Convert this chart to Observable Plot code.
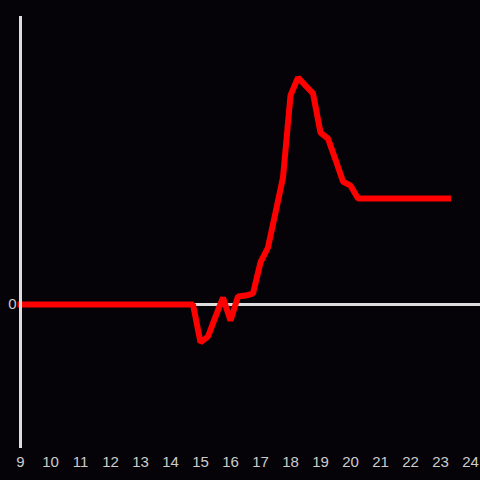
<!DOCTYPE html>
<html>
<head>
<meta charset="utf-8">
<script src="https://cdn.jsdelivr.net/npm/d3@7"></script>
<script src="https://cdn.jsdelivr.net/npm/@observablehq/plot@0.6"></script>
<style>
  html, body { margin: 0; padding: 0; background: #050307; }
  #chart { width: 480px; height: 480px; }
</style>
</head>
<body>
<div id="chart"></div>
<script>
// hours (15-minute steps) and values
const hours = [
  9, 9.25, 9.5, 9.75, 10, 10.25, 10.5, 10.75, 11, 11.25, 11.5, 11.75,
  12, 12.25, 12.5, 12.75, 13, 13.25, 13.5, 13.75, 14, 14.25, 14.5, 14.75,
  15, 15.25, 15.5, 15.75, 16, 16.25, 16.5, 16.75, 17, 17.25, 17.5, 17.75,
  18, 18.25, 18.5, 18.75, 19, 19.25, 19.5, 19.75, 20, 20.25, 20.5, 20.75,
  21, 21.25, 21.5, 21.75, 22, 22.25, 22.5, 22.75, 23, 23.25
];
const values = [
  0, 0, 0, 0, 0, 0, 0, 0, 0, 0, 0, 0,
  0, 0, 0, 0, 0, 0, 0, 0, 0, 0, 0, 0,
  -13.2, -11.1, -4.2, 2.4, -5.6, 2.8, 3.1, 3.8, 14.6, 19.8, 31.9, 44.1,
  72.6, 78.8, 76, 73.3, 59.7, 57.6, 50.3, 42.7, 41.3, 36.8, 36.8, 36.8,
  36.8, 36.8, 36.8, 36.8, 36.8, 36.8, 36.8, 36.8, 36.8, 36.8
];
const xTicks = [9, 10, 11, 12, 13, 14, 15, 16, 17, 18, 19, 20, 21, 22, 23, 24];
const yTicks = [0];

const data = hours.map((h, i) => ({hour: h, value: values[i]}));

const chart = Plot.plot({
  width: 480,
  height: 480,
  marginTop: 16,
  marginBottom: 32,
  marginLeft: 20,
  marginRight: 0,
  style: {background: "#050307", color: "#cccccc", fontFamily: "Liberation Sans, Arial, sans-serif", fontSize: "15px"},
  x: {domain: [9, 24 + 1/3], ticks: xTicks, tickFormat: d => String(d), label: null},
  y: {domain: [-50, 100], ticks: yTicks, label: null},
  marks: [
    Plot.axisX({ticks: xTicks, tickSize: 0, tickPadding: 8, fontSize: 15, tickFormat: d => String(d), label: null, fill: "#cccccc"}),
    Plot.axisY({ticks: yTicks, tickSize: 0, tickPadding: 4, fontSize: 15, label: null, fill: "#cccccc"}),
    Plot.ruleY([0], {stroke: "#dddddd", strokeWidth: 3}),
    Plot.line(data, {x: "hour", y: "value", stroke: "#ff0000", strokeWidth: 6, strokeLinejoin: "miter", strokeLinecap: "square"}),
    Plot.ruleX([9], {stroke: "#dddddd", strokeWidth: 3})
  ]
});
document.getElementById("chart").append(chart);
</script>
</body>
</html>
